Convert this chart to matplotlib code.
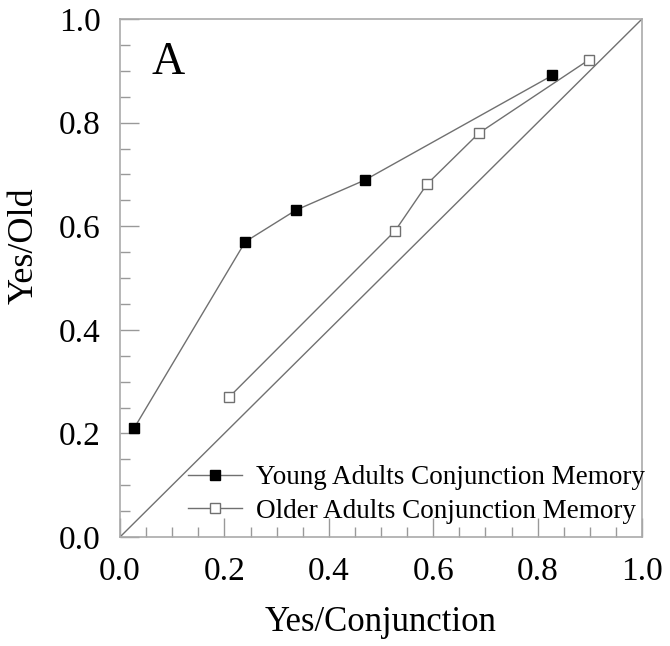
import matplotlib
matplotlib.use("Agg")
import matplotlib.pyplot as plt
from matplotlib.ticker import MultipleLocator

# ROC-style points
young_x = [0.027, 0.24, 0.337, 0.469, 0.828]
young_y = [0.21, 0.57, 0.631, 0.689, 0.891]
older_x = [0.209, 0.527, 0.588, 0.688, 0.898]
older_y = [0.27, 0.591, 0.681, 0.78, 0.921]
ticks = [0.0, 0.2, 0.4, 0.6, 0.8, 1.0]

plt.rcParams['font.family'] = ['Liberation Serif', 'DejaVu Serif']

fig = plt.figure(figsize=(6.7, 6.46), dpi=100)
ax = fig.add_axes([120 / 670, 1 - 537 / 646, 522 / 670, 518 / 646])

line_col = '#707070'
ax.plot([0, 1], [0, 1], color=line_col, lw=1.0)
ax.plot(young_x, young_y, color=line_col, lw=1.0, marker='s', ms=6.5,
        mfc='black', mec='black', label='Young Adults Conjunction Memory')
ax.plot(older_x, older_y, color=line_col, lw=1.0, marker='s', ms=6.5,
        mfc='white', mec=line_col, label='Older Adults Conjunction Memory')

ax.set_xlim(0, 1)
ax.set_ylim(0, 1)
ax.set_xticks(ticks)
ax.set_yticks(ticks)
ax.set_xticklabels([f'{t:.1f}' for t in ticks])
ax.set_yticklabels([f'{t:.1f}' for t in ticks])
ax.xaxis.set_minor_locator(MultipleLocator(0.05))
ax.yaxis.set_minor_locator(MultipleLocator(0.05))
ax.tick_params(which='major', direction='in', length=14, width=1, color='#999999',
               labelsize=24, pad=14)
ax.tick_params(which='minor', direction='in', length=7, width=1, color='#999999')
for s in ax.spines.values():
    s.set_color('#aaaaaa')
    s.set_linewidth(1.2)

ax.set_xlabel('Yes/Conjunction', fontsize=25, labelpad=14)
ax.set_ylabel('Yes/Old', fontsize=26)
ax.yaxis.set_label_coords(-0.152, 0.562)
ax.text(0.06, 0.915, 'A', transform=ax.transAxes, fontsize=33, va='center', ha='left')

ax.legend(loc='lower right', bbox_to_anchor=(1.005, 0.026), frameon=False, fontsize=19.5,
          handlelength=2.0, handletextpad=0.5, labelspacing=0.3, borderaxespad=0.0,
          borderpad=0.0)

fig.savefig('out.png', dpi=100)
